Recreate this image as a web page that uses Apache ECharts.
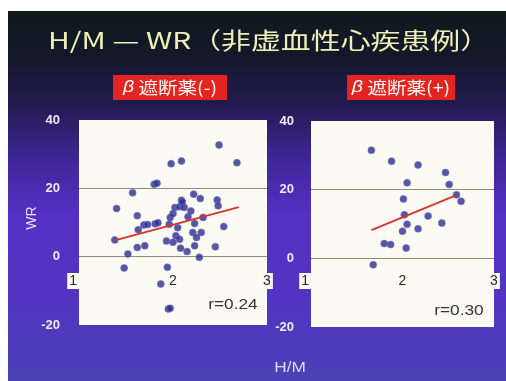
<!DOCTYPE html>
<html>
<head>
<meta charset="utf-8">
<script src="https://cdn.jsdelivr.net/npm/echarts@6/dist/echarts.min.js"></script>
<style>
  html, body { margin: 0; padding: 0; background: #ffffff; }
  #slide { position: absolute; left: 8px; top: 11px; width: 498px; height: 370px; }
</style>
</head>
<body>
<div id="slide"></div>
<script>
// H/M ratio and washout rate (WR) in non-ischaemic heart disease cases

// Without beta-blocker
const hmNoBeta = [2.49, 2.68, 1.98, 2.09, 1.80, 1.83, 1.57, 1.40, 1.62, 1.38,
                  1.48, 1.52, 1.62, 1.70, 1.63, 1.69, 1.73, 1.81, 1.84, 1.94,
                  1.87, 1.95, 1.97, 1.93, 2.00, 1.96, 1.97, 2.00, 2.02, 2.07,
                  2.09, 2.10, 2.12, 2.05, 2.03, 2.07, 2.08, 2.15, 2.16, 2.19,
                  2.22, 2.23, 2.21, 2.23, 2.25, 2.29, 2.30, 2.32, 2.28, 2.45,
                  2.47, 2.48, 2.54];
const wrNoBeta = [32.7, 27.5, 27.2, 28.0, 21.2, 21.5, 18.7, 14.1, 12.0, 4.9,
                  -3.3, 0.8, 2.7, 3.2, 7.9, 9.3, 9.4, 9.6, 9.9, -3.1,
                  -8.0, -15.3, -15.1, 4.6, 4.2, 9.5, 11.5, 12.6, 14.4, 14.6,
                  16.5, 16.0, 14.4, 8.5, 6.1, 5.1, 2.5, 1.5, 11.7, 13.4,
                  18.3, 9.7, 7.1, 3.2, 5.6, 17.0, 7.1, 11.5, -0.2, 2.9,
                  16.6, 14.9, 8.8];
const fitNoBetaHM = [1.38, 2.70];
const fitNoBetaWR = [4.8, 14.5];

// With beta-blocker
const hmBeta = [1.66, 1.88, 2.17, 2.47, 2.51, 2.05, 2.59, 2.64, 2.01, 2.02,
                2.28, 2.43, 2.05, 2.17, 2.00, 1.80, 1.87, 2.04, 1.68];
const wrBeta = [31.5, 28.3, 27.2, 25.0, 21.5, 22.0, 18.5, 16.6, 17.3, 12.7,
                12.3, 10.3, 9.9, 8.6, 7.9, 4.3, 4.0, 3.0, -1.9];
const fitBetaHM = [1.66, 2.59];
const fitBetaWR = [8.2, 18.4];

const panelTitles = ['遮断薬(-)', '遮断薬(+)'];
const rLabels = ['r=0.24', 'r=0.30'];
const xRange = [1, 3];
const yRange = [-20, 40];
const yStep = 20;

const zip = (xs, ys) => xs.map((x, i) => [x, ys[i]]);

const latin = '"Liberation Sans", Arial, sans-serif';
const cjk = '"Noto Sans CJK JP", "Noto Sans CJK SC", sans-serif';

const chart = echarts.init(document.getElementById('slide'), null, { renderer: 'canvas' });

function xAxisFor(gridIndex, offset) {
  return {
    gridIndex, type: 'value', min: xRange[0], max: xRange[1], interval: 1,
    position: 'bottom', offset,
    axisLine: { show: false }, axisTick: { show: false }, splitLine: { show: false },
    axisLabel: {
      color: '#262626', fontSize: 14, fontFamily: latin, margin: 0,
      verticalAlign: 'middle', backgroundColor: '#fbfbf3', padding: [1, 2],
      alignMinLabel: 'right'
    }
  };
}
function yAxisFor(gridIndex, margin) {
  return {
    gridIndex, type: 'value', min: yRange[0], max: yRange[1], interval: yStep,
    axisLine: { show: false }, axisTick: { show: false },
    axisLabel: { color: '#ecebf6', fontSize: 13, fontWeight: 'bold', fontFamily: latin, margin },
    splitLine: { show: true, lineStyle: { color: ['rgba(0,0,0,0)', '#8e8e7a', '#8e8e7a', 'rgba(0,0,0,0)'], width: 1 } }
  };
}
const dotStyle = { color: '#2c2e8c', borderColor: 'rgba(110,110,200,0.7)', borderWidth: 1 };
const fitStyle = { color: '#d9322c', width: 1.8 };

chart.setOption({
  backgroundColor: {
    type: 'linear', x: 0, y: 0, x2: 0, y2: 1,
    colorStops: [
      { offset: 0, color: '#0d1b1d' },
      { offset: 0.12, color: '#131829' },
      { offset: 0.25, color: '#221a4e' },
      { offset: 0.4, color: '#3e2698' },
      { offset: 0.55, color: '#5530c4' },
      { offset: 0.78, color: '#5235c2' },
      { offset: 1, color: '#4a41b5' }
    ]
  },
  animation: false,
  grid: [
    { left: 71, top: 109, width: 188, height: 205, show: true, backgroundColor: '#fbfbf3', borderWidth: 0 },
    { left: 303, top: 110, width: 183, height: 206, show: true, backgroundColor: '#fbfbf3', borderWidth: 0 }
  ],
  xAxis: [xAxisFor(0, -44), xAxisFor(1, -46)],
  yAxis: [yAxisFor(0, 19), yAxisFor(1, 17)],
  series: [
    { type: 'scatter', xAxisIndex: 0, yAxisIndex: 0, symbolSize: 7, itemStyle: dotStyle, z: 3,
      data: zip(hmNoBeta, wrNoBeta) },
    { type: 'line', xAxisIndex: 0, yAxisIndex: 0, symbol: 'none', lineStyle: fitStyle, z: 4,
      data: zip(fitNoBetaHM, fitNoBetaWR) },
    { type: 'scatter', xAxisIndex: 1, yAxisIndex: 1, symbolSize: 7, itemStyle: dotStyle, z: 3,
      data: zip(hmBeta, wrBeta) },
    { type: 'line', xAxisIndex: 1, yAxisIndex: 1, symbol: 'none', lineStyle: fitStyle, z: 4,
      data: zip(fitBetaHM, fitBetaWR) }
  ],
  graphic: { elements: [
    { type: 'text', x: 40, y: 29, scaleX: 1.3,
      style: { text: 'H/M — WR（非虚血性心疾患例）', fill: '#f1efb9', fontSize: 23, fontFamily: cjk,
               align: 'left', verticalAlign: 'middle', textAlign: 'left', textVerticalAlign: 'middle' } },
    { type: 'rect', shape: { x: 105, y: 64, width: 114, height: 25 }, style: { fill: '#e3241f' } },
    { type: 'rect', shape: { x: 339, y: 64, width: 108, height: 25 }, style: { fill: '#e3241f' } },
    { type: 'text', x: 162, y: 76.5, scaleX: 1.15,
      style: { text: '{b|β} ' + panelTitles[0], fill: '#ffffff', fontSize: 17, fontFamily: cjk,
               align: 'center', verticalAlign: 'middle', textAlign: 'center', textVerticalAlign: 'middle',
               rich: { b: { fontStyle: 'italic', fontSize: 17, fontFamily: latin, fill: '#ffffff' } } } },
    { type: 'text', x: 393, y: 76.5, scaleX: 1.15,
      style: { text: '{b|β} ' + panelTitles[1], fill: '#ffffff', fontSize: 17, fontFamily: cjk,
               align: 'center', verticalAlign: 'middle', textAlign: 'center', textVerticalAlign: 'middle',
               rich: { b: { fontStyle: 'italic', fontSize: 17, fontFamily: latin, fill: '#ffffff' } } } },
    { type: 'text', x: 225, y: 294, scaleX: 1.15,
      style: { text: rLabels[0], fill: '#333333', fontSize: 15, fontFamily: latin,
               align: 'center', verticalAlign: 'middle', textAlign: 'center', textVerticalAlign: 'middle' } },
    { type: 'text', x: 451, y: 300, scaleX: 1.15,
      style: { text: rLabels[1], fill: '#333333', fontSize: 15, fontFamily: latin,
               align: 'center', verticalAlign: 'middle', textAlign: 'center', textVerticalAlign: 'middle' } },
    { type: 'text', x: 24, y: 207, rotation: Math.PI / 2,
      style: { text: 'WR', fill: '#e2e0f2', fontSize: 14, fontFamily: latin,
               align: 'center', verticalAlign: 'middle', textAlign: 'center', textVerticalAlign: 'middle' } },
    { type: 'text', x: 282, y: 357, scaleX: 1.15,
      style: { text: 'H/M', fill: '#dcdcf2', fontSize: 15, fontFamily: latin,
               align: 'center', verticalAlign: 'middle', textAlign: 'center', textVerticalAlign: 'middle' } }
  ] }
});
</script>
</body>
</html>
